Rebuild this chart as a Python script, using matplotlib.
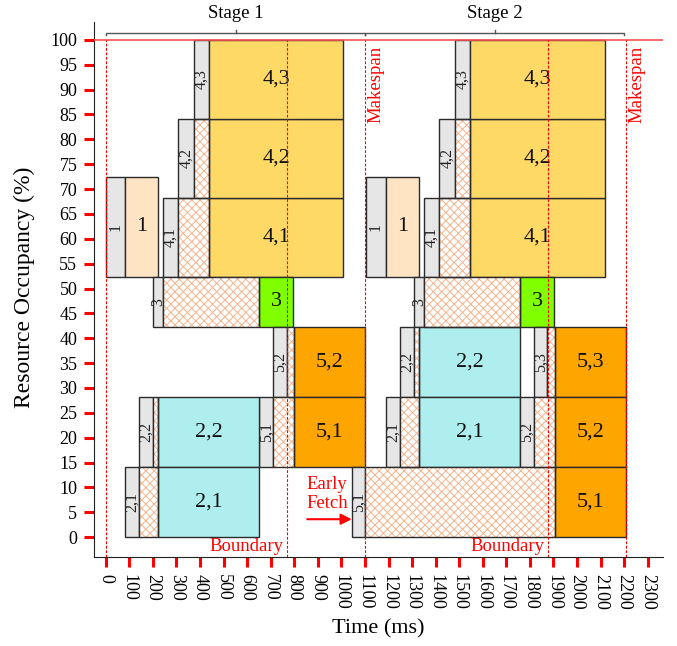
import matplotlib
matplotlib.use("Agg")
import matplotlib.pyplot as plt
from matplotlib.patches import Rectangle

plt.rcParams['font.family'] = ['Liberation Serif', 'DejaVu Serif']
plt.rcParams['hatch.linewidth'] = 0.7

# ---------------- data ----------------
stage1_labels = ["1", "4,1", "4,2", "4,3", "3", "5,2", "5,1", "2,2", "2,1"]
stage1_occ_low = [52.4, 52.4, 68.3, 84.1, 42.3, 28.2, 14.1, 14.1, 0.0]
stage1_occ_high = [72.4, 68.3, 84.1, 100.0, 52.4, 42.3, 28.2, 28.2, 14.1]
stage1_load_start = [0, 242, 308, 373, 202, 708, 652, 141, 82]
stage1_load_end = [82, 308, 373, 440, 244, 768, 711, 202, 143]
stage1_exec_start = [82, 440, 440, 440, 652, 799, 799, 223, 223]
stage1_exec_end = [223, 1008, 1008, 1008, 796, 1102, 1102, 652, 652]

stage2_labels = ["1", "4,1", "4,2", "4,3", "3", "2,2", "2,1", "5,3", "5,2", "5,1"]
stage2_occ_low = [52.4, 52.4, 68.3, 84.1, 42.3, 28.2, 14.1, 28.2, 14.1, 0.0]
stage2_occ_high = [72.4, 68.3, 84.1, 100.0, 52.4, 42.3, 28.2, 42.3, 28.2, 14.1]
stage2_load_start = [1104, 1350, 1415, 1482, 1308, 1249, 1189, 1817, 1758, 1044]
stage2_load_end = [1189, 1415, 1482, 1546, 1350, 1308, 1249, 1874, 1817, 1102]
stage2_exec_start = [1189, 1546, 1546, 1546, 1758, 1331, 1331, 1906, 1906, 1906]
stage2_exec_end = [1331, 2117, 2117, 2117, 1903, 1758, 1758, 2210, 2210, 2210]

stage_names = ["Stage 1", "Stage 2"]
stage_start = [0, 1102]
stage_end = [1102, 2200]
boundary_times = [768, 1878]
makespan_times = [1102, 2210]
early_fetch_from = 855
early_fetch_to = 1044

x_ticks = list(range(0, 2301, 100))
y_ticks = list(range(0, 101, 5))

# ---------------- style ----------------
task_colors = {"1": "#ffe4c4", "2": "#afeeee", "3": "#7fff00",
               "4": "#ffd966", "5": "#ffa500"}
load_color = "#e6e6e6"
hatch_color = "#f6b48c"
edge_color = "#2b2b2b"

fig = plt.figure(figsize=(6.77, 6.46), dpi=100)
ax = fig.add_axes([94 / 677, (646 - 557) / 646, (663 - 94) / 677, (557 - 22) / 646])
ax.set_xlim(-50, 2365)
ax.set_ylim(-4, 103.6)


def draw_stage(labels, lo, hi, ls, le, es, ee):
    for lab, y0, y1, a, b, c, d in zip(labels, lo, hi, ls, le, es, ee):
        h = y1 - y0
        # load (gray)
        ax.add_patch(Rectangle((a, y0), b - a, h, facecolor=load_color,
                               edgecolor=edge_color, lw=1.0, zorder=2))
        ax.text((a + b) / 2, y0 + h / 2, lab, rotation=90, ha='center',
                va='center', fontsize=11.5, color='#222222', zorder=5)
        # waiting (hatched)
        if c > b:
            ax.add_patch(Rectangle((b, y0), c - b, h, facecolor='white',
                                   edgecolor=hatch_color, hatch='xxxx', lw=0,
                                   zorder=2))
            ax.add_patch(Rectangle((b, y0), c - b, h, facecolor='none',
                                   edgecolor=edge_color, lw=1.0, zorder=3))
        # execution
        ax.add_patch(Rectangle((c, y0), d - c, h,
                               facecolor=task_colors[lab[0]],
                               edgecolor=edge_color, lw=1.0, zorder=2))
        ax.text((c + d) / 2, y0 + h / 2, lab, ha='center', va='center',
                fontsize=16, color='#111111', zorder=5)


draw_stage(stage1_labels, stage1_occ_low, stage1_occ_high, stage1_load_start,
           stage1_load_end, stage1_exec_start, stage1_exec_end)
draw_stage(stage2_labels, stage2_occ_low, stage2_occ_high, stage2_load_start,
           stage2_load_end, stage2_exec_start, stage2_exec_end)

# red reference lines
ax.axhline(100, color='#ff5050', lw=1.2, zorder=4)
vx = [stage_start[0]] + boundary_times + makespan_times
ax.vlines(vx, -4, 100, colors='red', linestyles=(0, (2.5, 1.5)), lw=0.8, zorder=6)

for m in makespan_times:
    ax.text(m + 10, 98.8, "Makespan", rotation=90, ha='left', va='top',
            color='red', fontsize=13.5, zorder=6)
for bt in boundary_times:
    ax.text(bt - 15, -1.9, "Boundary", ha='right', va='center', color='red',
            fontsize=13.5, zorder=6)

ax.text(940, 8.7, "Early\nFetch", ha='center', va='center', color='red',
        fontsize=13.5, linespacing=1.15, zorder=6)
ax.annotate("", xy=(early_fetch_to, 3.6), xytext=(early_fetch_from, 3.6),
            arrowprops=dict(arrowstyle='-|>', color='red', lw=1.5,
                            mutation_scale=16, shrinkA=0, shrinkB=0),
            zorder=6)

# stage brackets
for name, s0, s1 in zip(stage_names, stage_start, stage_end):
    yb = 101.4
    mid = (s0 + s1) / 2
    ax.plot([s0, s0, s1, s1], [100.9, yb, yb, 100.9], color='#555555',
            lw=1.0, clip_on=False, zorder=6)
    ax.plot([mid, mid], [yb, 102.0], color='#555555', lw=1.0,
            clip_on=False, zorder=6)
    ax.text(mid, 105.4, name, ha='center', va='center', fontsize=13.5,
            clip_on=False)

# axes styling
for sp in ['top', 'right']:
    ax.spines[sp].set_visible(False)
ax.spines['left'].set_color('#222222')
ax.spines['bottom'].set_color('#222222')

ax.set_xticks(x_ticks)
ax.set_xticklabels([str(t) for t in x_ticks], rotation=270, fontsize=13)
ax.set_yticks(y_ticks)
ax.set_yticklabels([str(t) for t in y_ticks], fontsize=13)
ax.tick_params(axis='both', direction='out', length=7, width=2.2,
               color='red', pad=5)

ax.set_xlabel("Time (ms)", fontsize=16)
ax.set_ylabel("Resource Occupancy (%)", fontsize=17)
ax.xaxis.set_label_coords(0.5, -0.117)
ax.yaxis.set_label_coords(-0.104, 0.505)

fig.savefig("out.png", dpi=100)
